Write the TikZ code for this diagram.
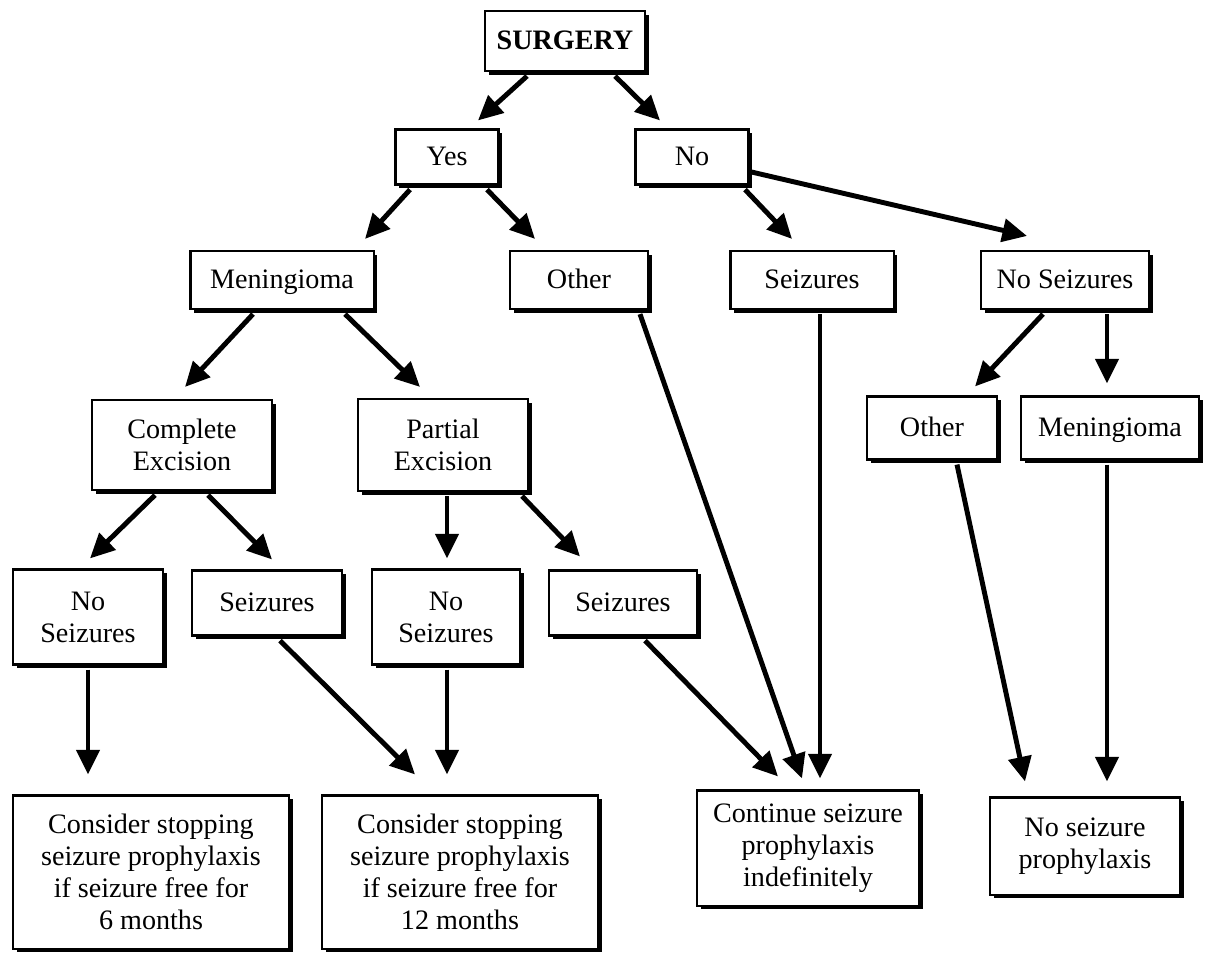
\documentclass[tikz,border=0pt]{standalone}
\usepackage{fontspec}
\setmainfont{Liberation Serif}
\usetikzlibrary{calc}
\usetikzlibrary{arrows.meta}
\usetikzlibrary{shadows}

\begin{document}
\begin{tikzpicture}[x=0.01cm,y=-0.01cm,
        box/.style={draw,line width=0.6pt,fill=white,inner sep=0pt,align=center,
          font=\fontsize{8}{9.1}\selectfont,
          drop shadow={shadow xshift=1.1pt,shadow yshift=-1.1pt,opacity=1,fill=black}},
        oneline/.style={box,text height=1.55ex,text depth=0.45ex},
        arr/.style={line width=1.4pt,-{Triangle[length=7pt,width=6.5pt]}}]
        \useasboundingbox (0,0) rectangle (1209,959);
        \node[oneline,minimum width=1.60cm,minimum height=0.60cm] (surgery) at (565,41) {\textbf{SURGERY}};
        \node[oneline,minimum width=1.03cm,minimum height=0.55cm] (yes) at (447,157) {Yes};
        \node[oneline,minimum width=1.13cm,minimum height=0.55cm] (no) at (692,157) {No};
        \node[oneline,minimum width=1.83cm,minimum height=0.58cm] (meningL) at (282,280) {Meningioma};
        \node[oneline,minimum width=1.38cm,minimum height=0.58cm] (otherL) at (579,280) {Other};
        \node[oneline,minimum width=1.63cm,minimum height=0.58cm] (seizM) at (812,280) {Seizures};
        \node[oneline,minimum width=1.68cm,minimum height=0.58cm] (noseizR) at (1065,280) {No Seizures};
        \node[box,minimum width=1.80cm,minimum height=0.90cm] (complete) at (182,445) {Complete\\Excision};
        \node[box,minimum width=1.70cm,minimum height=0.92cm] (partial) at (443,445) {Partial\\Excision};
        \node[oneline,minimum width=1.30cm,minimum height=0.63cm] (otherR) at (932,428) {Other};
        \node[oneline,minimum width=1.78cm,minimum height=0.63cm] (meningR) at (1110,428) {Meningioma};
        \node[box,minimum width=1.50cm,minimum height=0.95cm] (noseizA) at (88,617) {No\\Seizures};
        \node[oneline,minimum width=1.50cm,minimum height=0.65cm] (seizA) at (267,603) {Seizures};
        \node[box,minimum width=1.48cm,minimum height=0.95cm] (noseizB) at (446,617) {No\\Seizures};
        \node[oneline,minimum width=1.48cm,minimum height=0.65cm] (seizB) at (623,603) {Seizures};
        \node[box,minimum width=2.76cm,minimum height=1.53cm] (stopsix) at (151,872) {Consider stopping\\seizure prophylaxis\\if seizure free for\\6 months};
        \node[box,minimum width=2.76cm,minimum height=1.53cm] (stoptwelve) at (460,872) {Consider stopping\\seizure prophylaxis\\if seizure free for\\12 months};
        \node[box,minimum width=2.22cm,minimum height=1.15cm] (continue) at (808,848) {Continue seizure\\prophylaxis\\indefinitely};
        \node[box,minimum width=1.90cm,minimum height=0.97cm] (noproph) at (1085,846) {No seizure\\prophylaxis};
        \draw[arr] ($(surgery.south)+(-38,4)$) -- ($(yes.north)+(31,-8)$);
        \draw[arr] ($(surgery.south)+(50,4)$) -- ($(no.north)+(-32,-8)$);
        \draw[arr] ($(yes.south)+(-37,4)$) -- ($(meningL.north)+(83,-11)$);
        \draw[arr] ($(yes.south)+(40,4)$) -- ($(otherL.north)+(-44,-11)$);
        \draw[arr] ($(no.south)+(53,4)$) -- ($(seizM.north)+(-20,-11)$);
        \draw[arr] ($(no.east)+(2,15)$) -- ($(noseizR.north)+(-38,-14)$);
        \draw[arr] ($(meningL.south)+(-29,4)$) -- ($(complete.north)+(3,-12)$);
        \draw[arr] ($(meningL.south)+(63,4)$) -- ($(partial.north)+(-23,-11)$);
        \draw[arr] ($(otherL.south)+(61,4)$) -- ($(continue.north)+(-6,-11)$);
        \draw[arr] ($(seizM.south)+(8,4)$) -- ($(continue.north)+(12,-11)$);
        \draw[arr] ($(seizB.south)+(22,4)$) -- ($(continue.north)+(-30,-13)$);
        \draw[arr] ($(noseizR.south)+(-22,4)$) -- ($(otherR.north)+(43,-9)$);
        \draw[arr] ($(noseizR.south)+(42,4)$) -- ($(meningR.north)+(-3,-12)$);
        \draw[arr] ($(otherR.south)+(25,4)$) -- ($(noproph.north)+(-60,-15)$);
        \draw[arr] ($(meningR.south)+(-3,4)$) -- ($(noproph.north)+(22,-15)$);
        \draw[arr] ($(complete.south)+(-27,4)$) -- ($(noseizA.north)+(2,-10)$);
        \draw[arr] ($(complete.south)+(26,4)$) -- ($(seizA.north)+(5,-10)$);
        \draw[arr] ($(partial.south)+(4,4)$) -- ($(noseizB.north)+(1,-10)$);
        \draw[arr] ($(partial.south)+(79,4)$) -- ($(seizB.north)+(-43,-13)$);
        \draw[arr] ($(noseizA.south)+(0,4)$) -- ($(stopsix.north)+(-63,-20)$);
        \draw[arr] ($(seizA.south)+(13,4)$) -- ($(stoptwelve.north)+(-45,-20)$);
        \draw[arr] ($(noseizB.south)+(1,4)$) -- ($(stoptwelve.north)+(-13,-20)$);
\end{tikzpicture}
\end{document}
